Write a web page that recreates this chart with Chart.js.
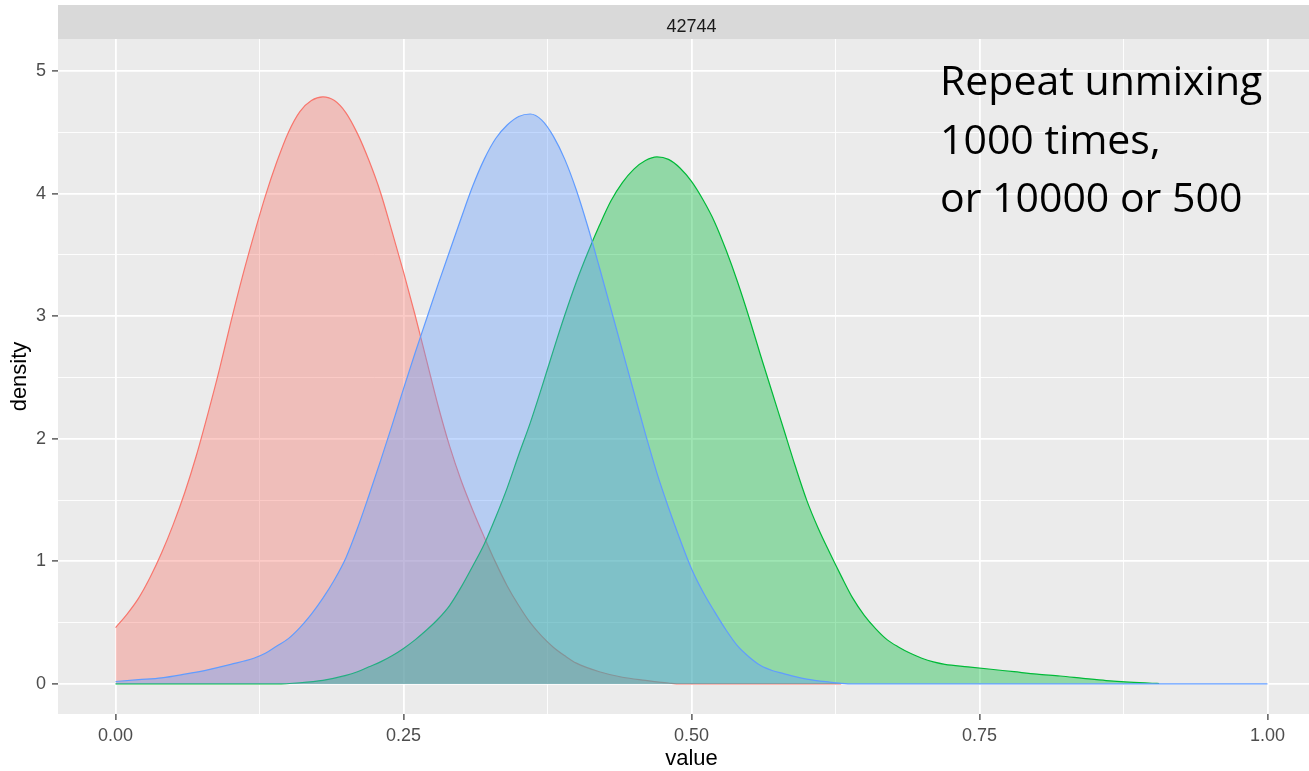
<!DOCTYPE html>
<html>
<head>
<meta charset="utf-8">
<script src="https://cdn.jsdelivr.net/npm/chart.js@4.4.1/dist/chart.umd.min.js"></script>
<style>
  html, body { margin: 0; padding: 0; background: #ffffff; overflow: hidden; }
  #grafico { display: block; }
</style>
</head>
<body>
<canvas id="grafico" width="1330" height="771"></canvas>
<script>
// facet label and annotation
const stripLabel = '42744';
const noteLines = ['Repeat unmixing', '1000 times,', 'or 10000 or 500'];

// axis ticks
const xTickValues = [0, 0.25, 0.5, 0.75, 1];
const xTickLabels = ['0.00', '0.25', '0.50', '0.75', '1.00'];
const yTickValues = [0, 1, 2, 3, 4, 5];
const yTickLabels = ['0', '1', '2', '3', '4', '5'];

// density curves
const redX = [0, 0.01, 0.02, 0.03, 0.04, 0.05, 0.06, 0.07, 0.08, 0.09, 0.10, 0.11, 0.12, 0.13, 0.14, 0.15, 0.16, 0.17, 0.18, 0.19,
  0.20, 0.21, 0.22, 0.23, 0.24, 0.25, 0.26, 0.27, 0.28, 0.29, 0.30, 0.31, 0.32, 0.33, 0.34, 0.35, 0.36, 0.37, 0.38, 0.39,
  0.40, 0.42, 0.44, 0.46, 0.48, 0.49, 0.63];
const redY = [0.46, 0.57, 0.70, 0.87, 1.07, 1.30, 1.56, 1.86, 2.20, 2.56, 2.95, 3.32, 3.66, 3.98, 4.26, 4.50, 4.67, 4.76, 4.79, 4.76,
  4.66, 4.49, 4.27, 4.01, 3.69, 3.36, 3.01, 2.64, 2.27, 1.94, 1.66, 1.42, 1.20, 0.99, 0.80, 0.64, 0.50, 0.39, 0.30, 0.23,
  0.17, 0.10, 0.055, 0.03, 0.008, 0, 0];

const blueX = [0, 0.02, 0.04, 0.06, 0.08, 0.10, 0.12, 0.13, 0.14, 0.15, 0.16, 0.17, 0.18, 0.19, 0.20, 0.21, 0.22, 0.23, 0.24, 0.25,
  0.26, 0.27, 0.28, 0.29, 0.30, 0.31, 0.32, 0.33, 0.34, 0.35, 0.36, 0.37, 0.38, 0.39, 0.40, 0.41, 0.42, 0.43, 0.44, 0.45,
  0.46, 0.47, 0.48, 0.49, 0.50, 0.51, 0.52, 0.53, 0.54, 0.55, 0.56, 0.57, 0.58, 0.59, 0.60, 0.62, 0.63, 0.64, 1.00];
const blueY = [0.02, 0.035, 0.05, 0.08, 0.115, 0.16, 0.21, 0.25, 0.31, 0.37, 0.46, 0.57, 0.70, 0.85, 1.03, 1.27, 1.54, 1.82, 2.11, 2.41,
  2.70, 2.98, 3.26, 3.53, 3.80, 4.06, 4.28, 4.45, 4.56, 4.63, 4.65, 4.60, 4.47, 4.28, 4.03, 3.73, 3.40, 3.06, 2.72, 2.38,
  2.04, 1.72, 1.44, 1.18, 0.94, 0.75, 0.59, 0.44, 0.31, 0.22, 0.15, 0.11, 0.085, 0.06, 0.04, 0.015, 0.005, 0, 0];

const greenX = [0, 0.14, 0.16, 0.18, 0.20, 0.21, 0.22, 0.23, 0.24, 0.25, 0.26, 0.27, 0.28, 0.29, 0.30, 0.31, 0.32, 0.33, 0.34, 0.35,
  0.36, 0.37, 0.38, 0.39, 0.40, 0.41, 0.42, 0.43, 0.44, 0.45, 0.46, 0.47, 0.48, 0.49, 0.50, 0.51, 0.52, 0.53, 0.54, 0.55,
  0.56, 0.57, 0.58, 0.59, 0.60, 0.61, 0.62, 0.63, 0.64, 0.65, 0.66, 0.67, 0.68, 0.69, 0.70, 0.71, 0.72, 0.74, 0.76, 0.78,
  0.80, 0.82, 0.84, 0.86, 0.88, 0.90, 0.906];
const greenY = [0, 0, 0.01, 0.03, 0.07, 0.10, 0.14, 0.18, 0.23, 0.29, 0.36, 0.44, 0.53, 0.64, 0.79, 0.96, 1.14, 1.36, 1.60, 1.87,
  2.13, 2.42, 2.72, 3.01, 3.28, 3.52, 3.74, 3.94, 4.09, 4.20, 4.27, 4.30, 4.28, 4.21, 4.10, 3.95, 3.77, 3.54, 3.28, 2.99,
  2.68, 2.38, 2.08, 1.78, 1.50, 1.27, 1.07, 0.88, 0.70, 0.56, 0.45, 0.36, 0.30, 0.25, 0.21, 0.18, 0.16, 0.14, 0.12, 0.10,
  0.08, 0.065, 0.046, 0.028, 0.015, 0.006, 0.004];

const aPuntos = (xs, ys) => xs.map((x, i) => ({ x: x, y: ys[i] }));

const conMenores = (valores) => {
  const lista = [];
  valores.forEach((v, i) => {
    lista.push({ value: v, isMajor: true });
    if (i < valores.length - 1) {
      lista.push({ value: (v + valores[i + 1]) / 2, isMajor: false });
    }
  });
  return lista;
};

const fuente = "'Liberation Sans', Arial, sans-serif";

const fondoPanel = {
  id: 'fondoPanel',
  beforeDraw(chart) {
    const { ctx, chartArea } = chart;
    ctx.save();
    ctx.fillStyle = '#ffffff';
    ctx.fillRect(0, 0, chart.width, chart.height);
    ctx.fillStyle = '#EBEBEB';
    ctx.fillRect(chartArea.left, chartArea.top, chartArea.right - chartArea.left, chartArea.bottom - chartArea.top);
    // facet strip
    ctx.fillStyle = '#D9D9D9';
    ctx.fillRect(chartArea.left, 5, chartArea.right - chartArea.left, chartArea.top - 5);
    ctx.fillStyle = '#1A1A1A';
    ctx.font = '18px ' + fuente;
    ctx.textAlign = 'center';
    ctx.textBaseline = 'alphabetic';
    ctx.fillText(stripLabel, (chartArea.left + chartArea.right) / 2, 32);
    ctx.restore();
  }
};

const nota = {
  id: 'nota',
  afterDraw(chart) {
    const { ctx } = chart;
    ctx.save();
    let size = 40;
    ctx.font = size + "px 'Open Sans', sans-serif";
    const ancho = ctx.measureText(noteLines[0]).width;
    size = size * 322 / ancho;
    ctx.font = size.toFixed(1) + "px 'Open Sans', sans-serif";
    ctx.fillStyle = '#000000';
    ctx.textAlign = 'left';
    ctx.textBaseline = 'alphabetic';
    noteLines.forEach((linea, i) => {
      ctx.fillText(linea, 940, 95 + i * 58.5);
    });
    ctx.restore();
  }
};

const serie = (datos, color, relleno, orden) => ({
  data: datos,
  borderColor: color,
  backgroundColor: relleno,
  borderWidth: 1.2,
  pointRadius: 0,
  cubicInterpolationMode: 'monotone',
  fill: 'origin',
  order: orden
});

const ejeComun = (valores, etiquetas) => ({
  type: 'linear',
  afterBuildTicks: (scale) => { scale.ticks = conMenores(valores); },
  grid: {
    color: '#ffffff',
    lineWidth: (c) => (c.tick && c.tick.isMajor ? 1.8 : 0.9),
    tickColor: (c) => (c.tick && c.tick.isMajor ? '#333333' : 'rgba(0,0,0,0)'),
    tickWidth: 1.2,
    tickLength: 6,
    drawTicks: true
  },
  border: { display: false },
  ticks: {
    autoSkip: false,
    maxRotation: 0,
    color: '#4D4D4D',
    font: { family: fuente, size: 18 },
    callback: (valor, i, ticks) => {
      const k = valores.indexOf(valor);
      return ticks[i].isMajor && k >= 0 ? etiquetas[k] : '';
    }
  }
});

const ejeX = ejeComun(xTickValues, xTickLabels);
ejeX.min = -0.05;
ejeX.max = 1.05;
ejeX.ticks.padding = 5;
ejeX.afterFit = (scale) => { scale.height = 57; };
ejeX.title = { display: true, text: 'value', color: '#000000', font: { family: fuente, size: 22, lineHeight: 1 }, padding: { top: 0, bottom: 1 } };

const ejeY = ejeComun(yTickValues, yTickLabels);
ejeY.min = -0.245;
ejeY.max = 5.262;
ejeY.ticks.padding = 6;
ejeY.afterFit = (scale) => { scale.width = 58; };
ejeY.title = { display: true, text: 'density', color: '#000000', font: { family: fuente, size: 22, lineHeight: 1 }, padding: { top: 9, bottom: 0 } };

// group order as in ggplot: red, green, blue (blue drawn last, on top)
const grafica = new Chart(document.getElementById('grafico').getContext('2d'), {
  type: 'line',
  data: {
    datasets: [
      serie(aPuntos(redX, redY), '#F8766D', 'rgba(248,118,109,0.38)', 3),
      serie(aPuntos(greenX, greenY), '#00BA38', 'rgba(0,186,56,0.38)', 2),
      serie(aPuntos(blueX, blueY), '#619CFF', 'rgba(97,156,255,0.38)', 1)
    ]
  },
  options: {
    responsive: false,
    animation: false,
    devicePixelRatio: 1,
    layout: { padding: { top: 39, right: 5, left: 0, bottom: 0 } },
    plugins: {
      legend: { display: false },
      tooltip: { enabled: false }
    },
    scales: { x: ejeX, y: ejeY }
  },
  plugins: [fondoPanel, nota]
});
</script>
</body>
</html>
